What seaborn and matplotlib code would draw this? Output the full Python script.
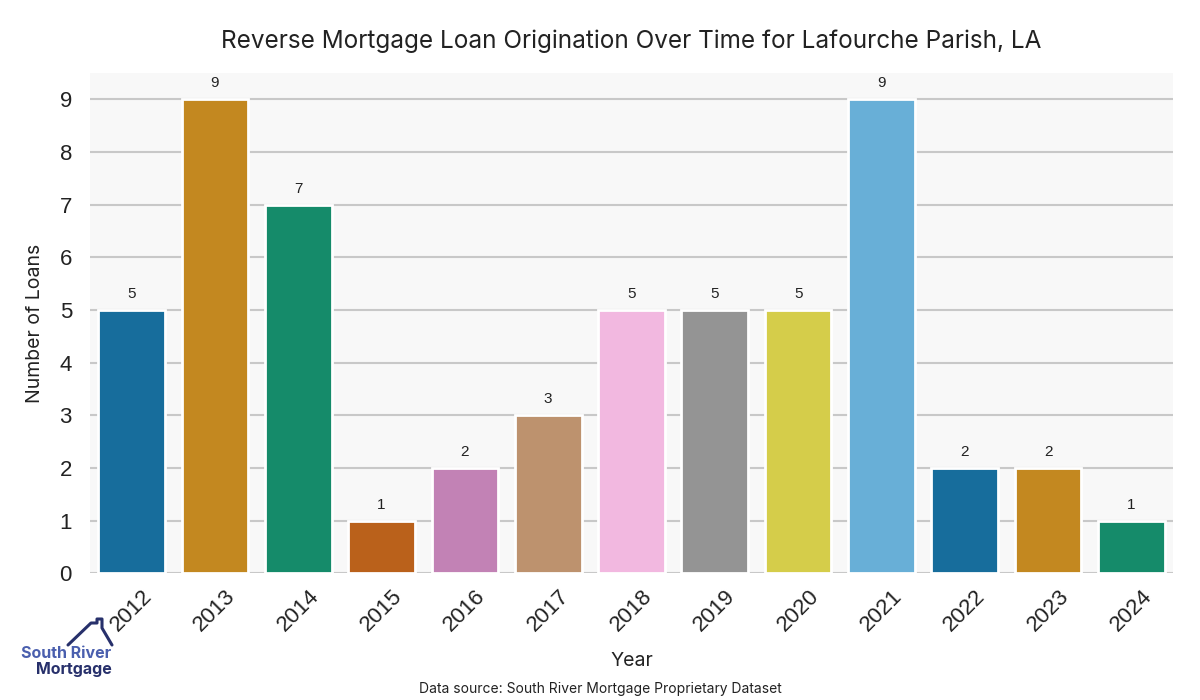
import matplotlib
matplotlib.use("Agg")
import matplotlib.pyplot as plt
import seaborn as sns
import pandas as pd
from matplotlib.lines import Line2D

years = ["2012", "2013", "2014", "2015", "2016", "2017", "2018",
         "2019", "2020", "2021", "2022", "2023", "2024"]
loans = [5, 9, 7, 1, 2, 3, 5, 5, 5, 9, 2, 2, 1]

sns.set_theme(style="whitegrid")
plt.rcParams['font.family'] = ['Inter', 'DejaVu Sans']

df = pd.DataFrame({"Year": years, "Loans": loans})
palette = sns.color_palette("colorblind", 10)
colors = [palette[i % 10] for i in range(len(years))]

fig = plt.figure(figsize=(12, 7), dpi=100)
ax = fig.add_axes([0.075, 0.181, 0.9025, 0.715])
ax.set_facecolor("#f8f8f8")

sns.barplot(data=df, x="Year", y="Loans", hue="Year", palette=colors,
            legend=False, ax=ax, edgecolor="white", linewidth=2, width=0.8)

for i, v in enumerate(loans):
    ax.text(i, v + 0.17, str(v), ha="center", va="bottom", fontsize=11,
            color="#222222", family=["Liberation Sans", "DejaVu Sans"])

ax.set_ylim(0, 9.5)
ax.set_xlim(-0.5, 12.5)
ax.set_yticks(range(0, 10))
ax.grid(axis="y", color="#c8c8c8", linewidth=1.5)
ax.grid(axis="x", visible=False)
ax.set_axisbelow(True)
for s in ax.spines.values():
    s.set_visible(False)

ax.tick_params(axis="x", labelsize=16, rotation=45, length=0, pad=9)
ax.tick_params(axis="y", labelsize=16, length=0, pad=13)
for lab in ax.get_xticklabels() + ax.get_yticklabels():
    lab.set_family(["Liberation Sans", "DejaVu Sans"])
    lab.set_color("#222222")

ax.set_xlabel("Year", fontsize=14, color="#222222", labelpad=12)
ax.set_ylabel("Number of Loans", fontsize=14, color="#222222", labelpad=11)
ax.set_title("Reverse Mortgage Loan Origination Over Time for Lafourche Parish, LA",
             fontsize=17.5, color="#222222", pad=18)

fig.text(0.5, 0.005, "Data source: South River Mortgage Proprietary Dataset",
         ha="center", va="bottom", fontsize=10, color="#222222")

# logo
fig.text(0.093, 0.067, "South River", ha="right", va="center", fontsize=11.5,
         color="#4a5fae", fontweight="bold")
fig.text(0.093, 0.044, "Mortgage", ha="right", va="center", fontsize=11.5,
         color="#27306b", fontweight="bold")
hx = [68, 91, 97, 97, 102, 102, 112]
hy = [645, 623, 623, 619, 619, 628, 645]
fig.add_artist(Line2D([x / 1200 for x in hx], [1 - y / 700 for y in hy],
                      transform=fig.transFigure, color="#27306b", linewidth=2.2))

fig.savefig("out.png", dpi=100)
